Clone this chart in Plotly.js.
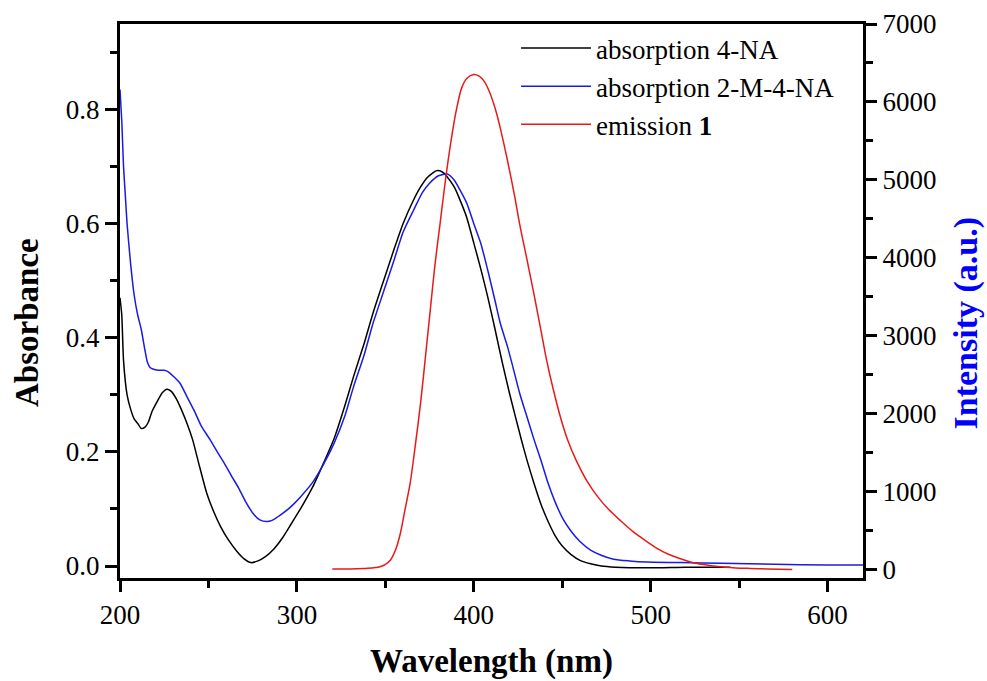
<!DOCTYPE html>
<html>
<head>
<meta charset="utf-8">
<script src="https://cdn.plot.ly/plotly-3.0.1.min.js"></script>
<style>html,body{margin:0;padding:0;background:#fff;}#chart{width:987px;height:681px;}</style>
</head>
<body>
<div id="chart"></div>
<script>
// absorption 4-NA
var wlA = [200,201,202,204,206,208,210,212,214,216,218,221,224,226.5,229,232,235,238,241,245,249,253,257,261,266,270,274,278,282,287,292,297,302,309,315,321,327,332,338,343,349,355,360,366,370,374,379,382,385,389,392,396,400,404,408,412,416,420,423,427,430,434,438,442,446,450,455,460,466,472,480,500,520,545];
var absA = [0.47,0.44,0.36,0.30,0.275,0.258,0.250,0.241,0.243,0.252,0.270,0.288,0.304,0.310,0.306,0.292,0.272,0.249,0.222,0.174,0.128,0.095,0.068,0.047,0.026,0.013,0.006,0.009,0.016,0.030,0.050,0.075,0.100,0.139,0.180,0.223,0.280,0.332,0.390,0.443,0.500,0.556,0.600,0.642,0.665,0.682,0.693,0.691,0.682,0.664,0.643,0.611,0.566,0.520,0.470,0.415,0.358,0.305,0.268,0.220,0.186,0.145,0.108,0.078,0.053,0.035,0.020,0.010,0.004,0.000,-0.002,-0.003,-0.002,-0.002];

// absorption 2-M-4-NA
var wlB = [200,201,202,203,204,206,208,210,212,214,215.5,217,219,222,225,227.5,230,234,238,242,246,251,255,259,263,267,271,275,279,283,286,290,294,298,302,309,315,321,327,332,338,343,349,355,360,366,371,375,380,385,389,392,396,400,404,408,412,415,419,422,426,430,434,438,442,446,450,455,460,466,472,479,488,498,517,540,570,600,620];
var absB = [0.835,0.78,0.70,0.65,0.60,0.53,0.475,0.44,0.415,0.38,0.357,0.348,0.345,0.343,0.343,0.340,0.333,0.320,0.296,0.272,0.245,0.221,0.200,0.180,0.158,0.137,0.113,0.093,0.081,0.078,0.080,0.088,0.097,0.108,0.121,0.147,0.178,0.215,0.262,0.314,0.370,0.425,0.481,0.537,0.585,0.624,0.655,0.671,0.684,0.687,0.676,0.660,0.636,0.600,0.565,0.517,0.465,0.425,0.385,0.350,0.302,0.262,0.222,0.185,0.145,0.112,0.085,0.061,0.043,0.028,0.019,0.012,0.009,0.007,0.006,0.005,0.003,0.002,0.002];

// emission 1
var wlE = [320,330,340,347,350,353,356,358.5,361,364,367,370,373,375.5,378,381,384,387,390,393,396,400,403,406,409,412,415,419,423,426,430,434,438,441,445,449,453,458,464,470,476,483,490,498,504,510,516,522,530,538,548,556,566,580];
var intE = [0,2,10,30,60,120,260,460,750,1100,1600,2150,2800,3350,3900,4450,5000,5480,5880,6170,6300,6350,6330,6260,6120,5920,5660,5250,4800,4420,3980,3530,3060,2700,2300,1950,1660,1390,1130,930,770,620,480,350,260,190,138,95,58,32,15,8,2,-5];

var names = ['absorption 4-NA','absorption 2-M-4-NA','emission <b>1</b>'];
var xTicks = [200,300,400,500,600];

var FONT = '"Liberation Serif", "Times New Roman", serif';
var TF = {family: FONT, size: 27, color: '#000000'};

var traces = [
  {x: wlA, y: absA, type:'scatter', mode:'lines', name: names[0], line:{color:'#000000', width:1.5, shape:'spline', smoothing:0.6}},
  {x: wlB, y: absB, type:'scatter', mode:'lines', name: names[1], line:{color:'#1a1ae6', width:1.5, shape:'spline', smoothing:0.6}},
  {x: wlE, y: intE, type:'scatter', mode:'lines', name: names[2], yaxis:'y2', line:{color:'#e61a1a', width:1.5, shape:'spline', smoothing:0.8}}
];

var layout = {
  width: 987, height: 681,
  margin: {l:120, r:124, t:24, b:103, pad:0},
  paper_bgcolor:'#ffffff', plot_bgcolor:'#ffffff',
  font: {family: FONT, size: 27, color:'#000'},
  showlegend: true,
  legend: {x: 0.533, y: 1.0, xanchor:'left', yanchor:'top', bgcolor:'rgba(0,0,0,0)', borderwidth:0,
           font:{family:FONT, size:27, color:'#000'}, itemwidth: 70, tracegroupgap: 0},
  xaxis: {range:[200,620], tickvals: xTicks, ticks:'outside', ticklen:11, tickwidth:3, tickcolor:'#000',
          showline:true, linewidth:3, linecolor:'#000', mirror:true, showgrid:false, zeroline:false,
          minor:{dtick:50, tick0:0, ticks:'outside', ticklen:7, tickwidth:3, tickcolor:'#000', showgrid:false},
          tickfont: TF},
  yaxis: {range:[-0.021,0.95], tick0:0, dtick:0.2, tickformat:'.1f', ticks:'outside', ticklen:12, tickwidth:3, tickcolor:'#000',
          showline:true, linewidth:3, linecolor:'#000', showgrid:false, zeroline:false,
          minor:{dtick:0.1, tick0:0, ticks:'outside', ticklen:7, tickwidth:3, tickcolor:'#000', showgrid:false},
          tickfont: TF},
  yaxis2: {range:[-115,7000], tick0:0, dtick:1000, overlaying:'y', side:'right', ticks:'outside', ticklen:11, tickwidth:3, tickcolor:'#000',
          showline:true, linewidth:3, linecolor:'#000', showgrid:false, zeroline:false,
          minor:{dtick:500, tick0:0, ticks:'outside', ticklen:7, tickwidth:3, tickcolor:'#000', showgrid:false},
          tickfont: TF},
  annotations: [
    {text:'<b>Wavelength (nm)</b>', xref:'paper', yref:'paper', x:(491-120)/743, y:-(661-578)/554, xanchor:'center', yanchor:'middle', showarrow:false, font:{family:FONT, size:33, color:'#000'}},
    {text:'<b>Absorbance</b>', xref:'paper', yref:'paper', x:-(120-27)/743, y:(578-323)/554, xanchor:'center', yanchor:'middle', textangle:-90, showarrow:false, font:{family:FONT, size:33, color:'#000'}},
    {text:'<b>Intensity (a.u.)</b>', xref:'paper', yref:'paper', x:(965-120)/743, y:(578-323.5)/554, xanchor:'center', yanchor:'middle', textangle:-90, showarrow:false, font:{family:FONT, size:34, color:'#0000ff'}}
  ]
};

Plotly.newPlot('chart', traces, layout, {staticPlot:true, displayModeBar:false});
</script>
</body>
</html>
